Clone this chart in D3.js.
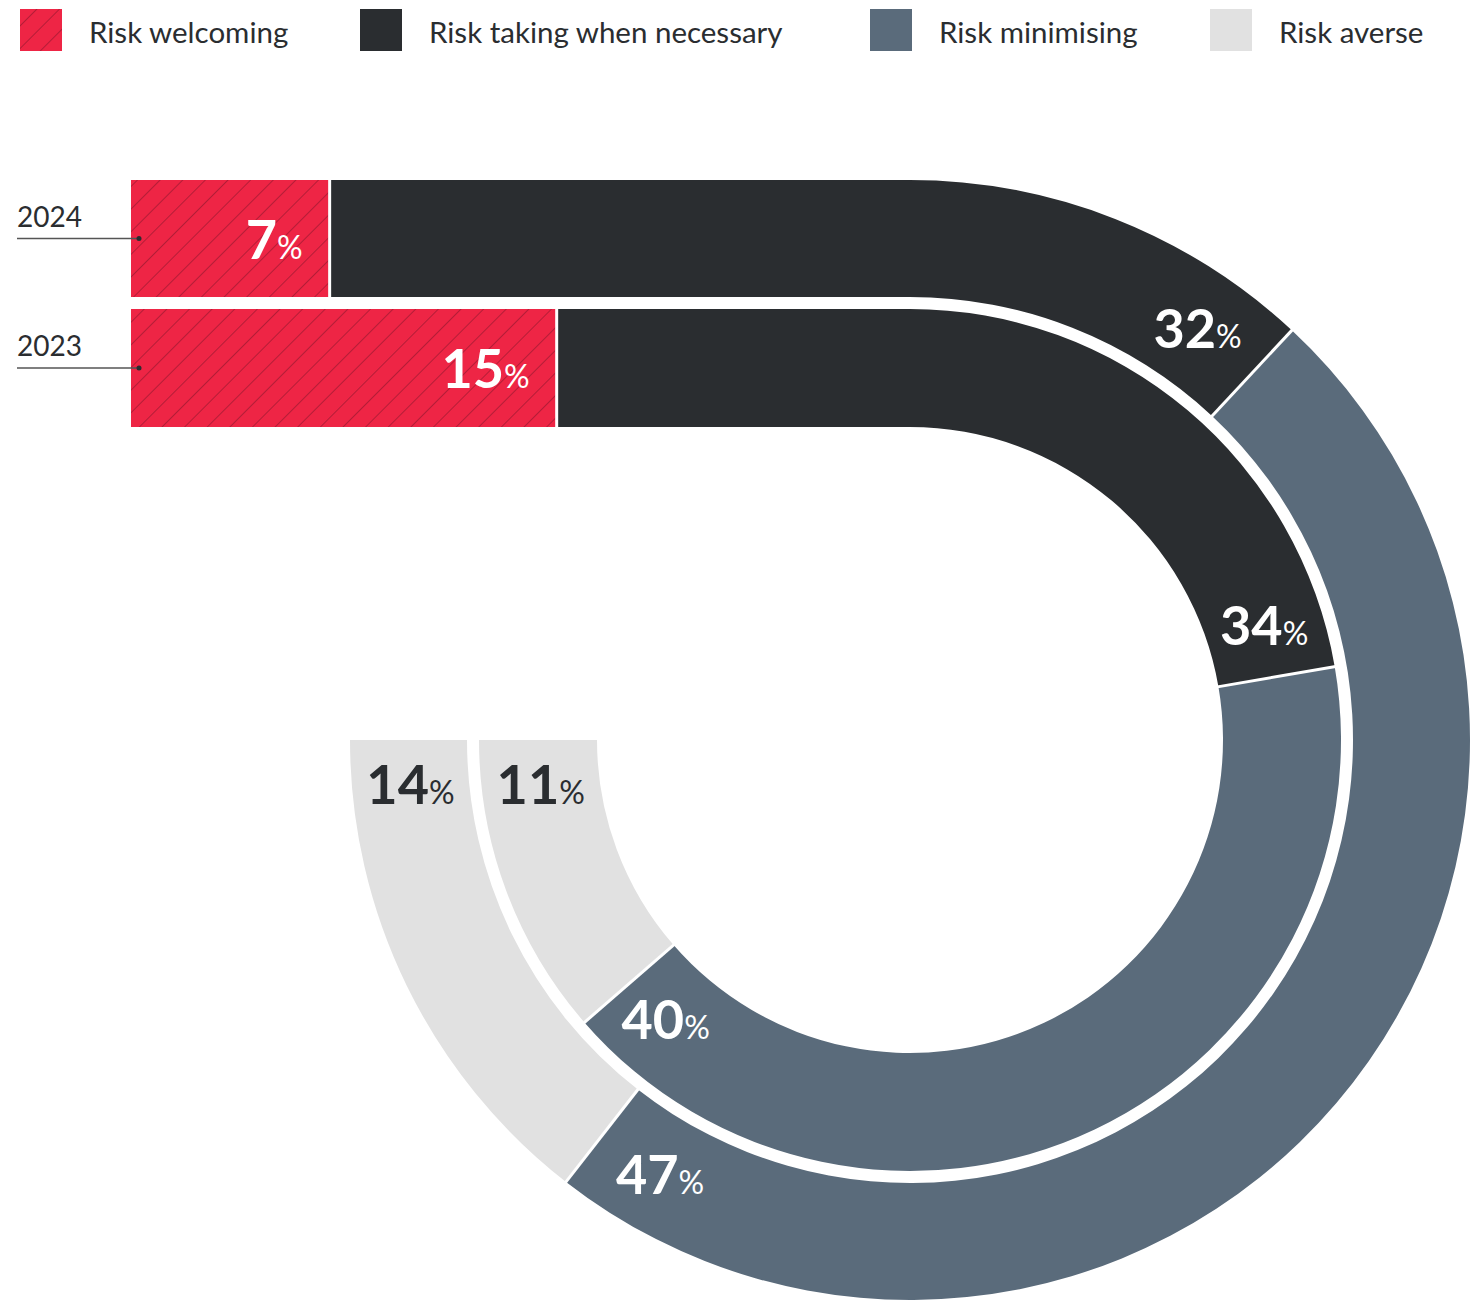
<!DOCTYPE html>
<html>
<head>
<meta charset="utf-8">
<script src="https://cdn.jsdelivr.net/npm/d3@7"></script>
<style>
  body { margin: 0; background: #fff; }
  svg text { font-family: Lato, "Noto Sans", sans-serif; }
</style>
</head>
<body>
<div id="chart"></div>
<script>
// data
var categories = ["Risk welcoming", "Risk taking when necessary", "Risk minimising", "Risk averse"];
var years = ["2024", "2023"];
var values2024 = [7, 32, 47, 14];
var values2023 = [15, 34, 40, 11];

var colors = ["#ee2545", "#2a2d30", "#5a6b7b", "#e1e1e1"];
var labelColors = ["#fff", "#fff", "#fff", "#2a2d30"];

var svgWidth = 1473;
var svgHeight = 1301;

var cx = 910, cy = 740;
var trackLeft = 131;
// share of the 100% that runs along the straight part, the rest wraps 270 degrees
var straightShare = 27.45;

var tracks = [
    { year: years[0], values: values2024, inner: 443, outer: 560 },
    { year: years[1], values: values2023, inner: 313, outer: 431 }
];

var svg = d3.select("#chart")
            .append("svg")
            .attr("width", svgWidth)
            .attr("height", svgHeight);

var defs = svg.append("defs");
var hatch = defs.append("pattern")
                .attr("id", "hatch")
                .attr("patternUnits", "userSpaceOnUse")
                .attr("width", 16)
                .attr("height", 16)
                .attr("patternTransform", "rotate(45)");
hatch.append("rect")
     .attr("width", 16).attr("height", 16)
     .attr("fill", colors[0]);
hatch.append("line")
     .attr("x1", 0).attr("y1", 0)
     .attr("x2", 0).attr("y2", 16)
     .attr("stroke", "#7a1529")
     .attr("stroke-width", 1.2)
     .attr("stroke-opacity", 0.85);

var fillFor = function(i) { return i === 0 ? "url(#hatch)" : colors[i]; };

var xScale = d3.scaleLinear()
               .domain([0, straightShare])
               .range([trackLeft, cx]);
var angleScale = d3.scaleLinear()
                   .domain([straightShare, 100])
                   .range([0, 1.5 * Math.PI]);

var arc = d3.arc();
var chartGroup = svg.append("g");

tracks.forEach(function(t) {
    var ends = d3.cumsum(t.values);
    var mid = (t.inner + t.outer) / 2;
    var g = chartGroup.append("g");
    t.values.forEach(function(v, i) {
        var a = i === 0 ? 0 : ends[i - 1];
        var b = ends[i];
        if (a < straightShare) {
            g.append("rect")
             .attr("x", xScale(a))
             .attr("y", cy - t.outer)
             .attr("width", xScale(Math.min(b, straightShare)) - xScale(a))
             .attr("height", t.outer - t.inner)
             .attr("fill", fillFor(i));
        }
        if (b > straightShare) {
            g.append("path")
             .attr("transform", `translate(${cx},${cy})`)
             .attr("d", arc({
                 innerRadius: t.inner,
                 outerRadius: t.outer,
                 startAngle: angleScale(Math.max(a, straightShare)),
                 endAngle: angleScale(b)
             }))
             .attr("fill", fillFor(i));
        }
    });

    // white separators between segments
    ends.slice(0, -1).forEach(function(e) {
        if (e <= straightShare) {
            g.append("line")
             .attr("x1", xScale(e)).attr("x2", xScale(e))
             .attr("y1", cy - t.outer).attr("y2", cy - t.inner)
             .attr("stroke", "#fff").attr("stroke-width", 3);
        } else {
            var ang = angleScale(e);
            g.append("line")
             .attr("x1", cx + (t.inner - 1) * Math.sin(ang))
             .attr("y1", cy - (t.inner - 1) * Math.cos(ang))
             .attr("x2", cx + (t.outer + 1) * Math.sin(ang))
             .attr("y2", cy - (t.outer + 1) * Math.cos(ang))
             .attr("stroke", "#fff").attr("stroke-width", 3);
        }
    });

    // value labels near the end of each segment
    t.values.forEach(function(v, i) {
        var b = ends[i];
        var lx, ly, anchor;
        if (b <= straightShare) {
            lx = xScale(b) - 27;
            ly = cy - mid + 20;
            anchor = "end";
        } else {
            // last segment: step back a fixed distance along the track
            var off = i === t.values.length - 1 ? 45 / mid : 8 * Math.PI / 180;
            var ang = angleScale(b) - off;
            lx = cx + mid * Math.sin(ang);
            ly = cy - mid * Math.cos(ang) + 19;
            anchor = "middle";
        }
        var txt = g.append("text")
                   .attr("x", lx)
                   .attr("y", ly)
                   .attr("text-anchor", anchor)
                   .attr("fill", labelColors[i]);
        txt.append("tspan")
           .attr("font-size", 54)
           .attr("font-weight", 700)
           .text(v);
        txt.append("tspan")
           .attr("font-size", 32)
           .attr("font-weight", 400)
           .text("%");
    });

    // year label with leader line
    var lineY = cy - mid;
    chartGroup.append("text")
              .attr("x", 17)
              .attr("y", lineY - 12)
              .attr("font-size", 28)
              .attr("fill", "#2a2d30")
              .text(t.year);
    chartGroup.append("line")
              .attr("x1", 17).attr("x2", 139)
              .attr("y1", lineY).attr("y2", lineY)
              .attr("stroke", "#555").attr("stroke-width", 1.5);
    chartGroup.append("circle")
              .attr("cx", 139).attr("cy", lineY)
              .attr("r", 2.5)
              .attr("fill", "#2a2d30");
});

// legend
var legendX = [20, 360, 870, 1210];
var legend = svg.append("g");
categories.forEach(function(c, i) {
    legend.append("rect")
          .attr("x", legendX[i]).attr("y", 9)
          .attr("width", 42).attr("height", 42)
          .attr("fill", fillFor(i));
    legend.append("text")
          .attr("x", legendX[i] + 69)
          .attr("y", 43)
          .attr("font-size", 29.5)
          .attr("fill", "#2a2d30")
          .text(c);
});
</script>
</body>
</html>
